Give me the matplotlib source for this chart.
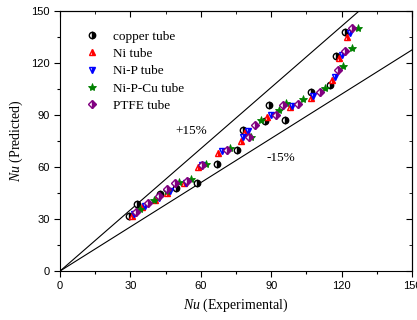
import matplotlib
matplotlib.use("Agg")
import matplotlib.pyplot as plt
import numpy as np

plt.rcParams["mathtext.fontset"] = "custom"
plt.rcParams["mathtext.it"] = "Liberation Serif:italic"
plt.rcParams["mathtext.rm"] = "Liberation Serif"

copper_x = [29.5, 33, 42.5, 49.5, 58.5, 67, 75.5, 78, 87.5, 89, 96, 107, 115, 117.5, 121.5]
copper_y = [32, 38.5, 44.5, 48, 51, 61.5, 69.5, 81.5, 86.5, 96, 87, 103.5, 107, 124, 138]

ni_x = [30.5, 35, 40.5, 45.5, 53, 59, 67.5, 77, 79, 88, 98, 107, 116, 119, 122.5]
ni_y = [32, 37, 41, 45, 51, 60, 68, 75, 80, 89, 94.5, 100, 110, 123, 135]

nip_x = [31.5, 36, 42, 47, 53.5, 60.5, 69, 78, 80, 90, 99, 108, 117, 120, 123.5]
nip_y = [33, 37.5, 42, 46, 51, 61, 69, 77, 80.5, 90, 95, 101, 112, 124.5, 137]

nipcu_x = [34, 40, 45.5, 50.5, 56, 62, 72.5, 81.5, 85.5, 93.5, 96.5, 103.5, 113, 120.5, 124.5, 127]
nipcu_y = [36, 41, 46, 51.5, 53, 62, 71, 77.5, 87, 93, 97, 99, 105.5, 118, 128.5, 140]

ptfe_x = [32.5, 37.5, 42, 45.5, 49, 54, 60.5, 71, 80.5, 83, 92, 95, 101.5, 111, 118.5, 121.5, 124.5]
ptfe_y = [34, 39, 43, 47.5, 50.5, 52, 61, 70, 77, 84, 90, 96, 96.5, 103.5, 116, 127, 140]

labels = ["copper tube", "Ni tube", "Ni-P tube", "Ni-P-Cu tube", "PTFE tube"]
ticks = [0, 30, 60, 90, 120, 150]

fig = plt.figure(figsize=(4.17, 3.2), dpi=100)
ax = fig.add_axes([0.144, 0.153, 0.844, 0.813])

line_x = np.array([0, 150])
ax.plot(line_x, line_x / 0.85, color="black", lw=0.8, zorder=1)
ax.plot(line_x, line_x * 0.85, color="black", lw=0.8, zorder=1)

ms = 4.6
common = dict(linestyle="none", markersize=ms, markeredgewidth=1.0, fillstyle="right",
              markerfacecoloralt="white", zorder=3)
ax.plot(copper_x, copper_y, marker="o", color="black", markeredgecolor="black",
        label=labels[0], **common)
ax.plot(ni_x, ni_y, marker="^", color="red", markeredgecolor="red",
        label=labels[1], **common)
ax.plot(nip_x, nip_y, marker="v", color="blue", markeredgecolor="blue",
        label=labels[2], **common)
ax.plot(nipcu_x, nipcu_y, marker="*", color="green", markeredgecolor="green",
        linestyle="none", markersize=ms + 1.5, markeredgewidth=0.6, zorder=3, label=labels[3])
ax.plot(ptfe_x, ptfe_y, marker="D", color="purple", markeredgecolor="purple",
        label=labels[4], **{**common, "markersize": ms - 0.4})

ax.set_xlim(0, 150)
ax.set_ylim(0, 150)
ax.set_xticks(ticks)
ax.set_yticks(ticks)
ax.set_xticks(np.arange(15, 150, 30), minor=True)
ax.set_yticks(np.arange(15, 150, 30), minor=True)
for lab in ax.get_xticklabels() + ax.get_yticklabels():
    lab.set_fontfamily("Liberation Sans")
    lab.set_fontsize(8)
ax.tick_params(which="both", direction="out", top=False, right=False)
ax.tick_params(which="major", length=4, width=0.8)
ax.tick_params(which="minor", length=2.5, width=0.8)
axt = ax.secondary_xaxis("top")
axt.set_xticks(ticks)
axt.set_xticks(np.arange(15, 150, 30), minor=True)
axt.tick_params(which="both", direction="in", labeltop=False)
axt.tick_params(which="major", length=4)
axt.tick_params(which="minor", length=2.5)
axr = ax.secondary_yaxis("right")
axr.set_yticks(ticks)
axr.set_yticks(np.arange(15, 150, 30), minor=True)
axr.tick_params(which="both", direction="in", labelright=False)
axr.tick_params(which="major", length=4)
axr.tick_params(which="minor", length=2.5)

ax.set_xlabel(r"$\mathit{Nu}$ (Experimental)", fontfamily="Liberation Serif", fontsize=10)
ax.set_ylabel(r"$\mathit{Nu}$ (Predicted)", fontfamily="Liberation Serif", fontsize=10)

ax.text(56, 81, "+15%", fontfamily="Liberation Serif", fontsize=9.5, ha="center", va="center")
ax.text(94, 65, "-15%", fontfamily="Liberation Serif", fontsize=9.5, ha="center", va="center")

leg = ax.legend(loc="upper left", frameon=False, prop={"family": "Liberation Serif", "size": 9.5},
                bbox_to_anchor=(0.03, 0.97), handletextpad=0.8, labelspacing=0.38,
                handlelength=1.5)

fig.savefig("out.png", dpi=100)
